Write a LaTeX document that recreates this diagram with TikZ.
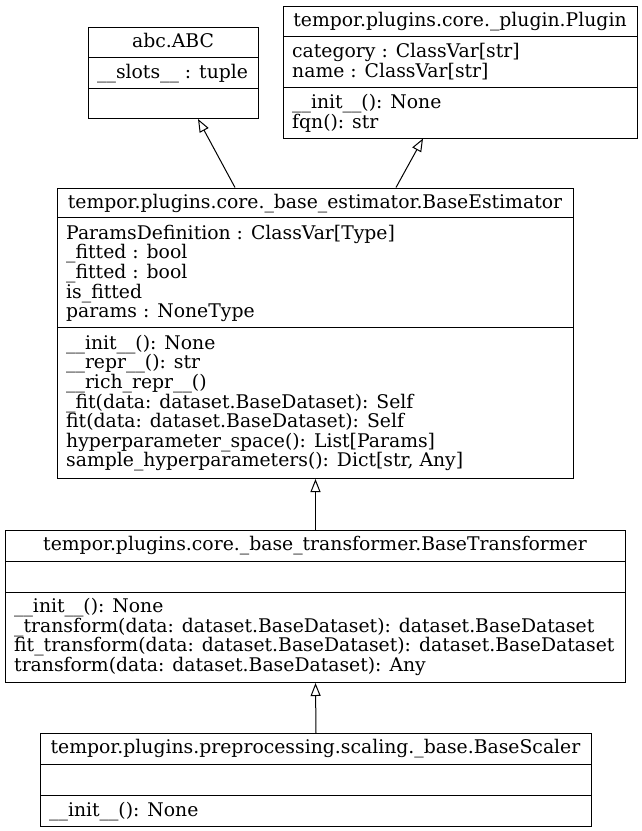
\documentclass[tikz,border=0pt]{standalone}
\usepackage{fontspec}
\setmainfont{DejaVu Serif}
\usetikzlibrary{arrows.meta}
\begin{document}
\begin{tikzpicture}[x=1pt,y=-1pt,
  box/.style={draw, line width=1pt, inner sep=0pt, anchor=north west},
  sepline/.style={line width=1pt},
  lbl/.style={inner sep=0pt, font=\fontsize{18.8}{19.6}\selectfont},
  ttl/.style={lbl, anchor=base},
  ln/.style={lbl, anchor=base west},
  inh/.style={-{Triangle[open,length=13pt,width=10pt]}, line width=1pt}]
\useasboundingbox (0,0) rectangle (642,831);
% abc.ABC
\node[box, minimum width=170pt, minimum height=91pt] (abc) at (88,27) {};
\draw[sepline] (88,57) -- (258,57);
\draw[sepline] (88,88) -- (258,88);
\node[ttl] (abcT) at (173,47.5) {abc.ABC};
\node[ln] (abcA1) at (97,78) {\_\_slots\_\_ : tuple};
% Plugin
\node[box, minimum width=354pt, minimum height=132pt] (plg) at (283,5.5) {};
\draw[sepline] (283,36) -- (637,36);
\draw[sepline] (283,87) -- (637,87);
\node[ttl] (plgT) at (460,26) {tempor.plugins.core.\_plugin.Plugin};
\node[ln] (plgA1) at (292,57.5) {category : ClassVar[str]};
\node[ln] (plgA2) at (292,77.1) {name : ClassVar[str]};
\node[ln] (plgM1) at (292,108.5) {\_\_init\_\_(): None};
\node[ln] (plgM2) at (292,128.1) {fqn(): str};
% BaseEstimator
\node[box, minimum width=516pt, minimum height=290.5pt] (est) at (57,187.5) {};
\draw[sepline] (57,217.5) -- (573,217.5);
\draw[sepline] (57,327.5) -- (573,327.5);
\node[ttl] (estT) at (315,208) {tempor.plugins.core.\_base\_estimator.BaseEstimator};
\node[ln] (estA1) at (66,239.2) {ParamsDefinition : ClassVar[Type]};
\node[ln] (estA2) at (66,258.8) {\_fitted : bool};
\node[ln] (estA3) at (66,278.4) {\_fitted : bool};
\node[ln] (estA4) at (66,298.0) {is\_fitted};
\node[ln] (estA5) at (66,317.6) {params : NoneType};
\node[ln] (estM1) at (66,349.3) {\_\_init\_\_(): None};
\node[ln] (estM2) at (66,368.9) {\_\_repr\_\_(): str};
\node[ln] (estM3) at (66,388.5) {\_\_rich\_repr\_\_()};
\node[ln] (estM4) at (66,408.1) {\_fit(data: dataset.BaseDataset): Self};
\node[ln] (estM5) at (66,427.7) {fit(data: dataset.BaseDataset): Self};
\node[ln] (estM6) at (66,447.3) {hyperparameter\_space(): List[Params]};
\node[ln] (estM7) at (66,466.9) {sample\_hyperparameters(): Dict[str, Any]};
% BaseTransformer
\node[box, minimum width=620pt, minimum height=152pt] (trn) at (5,530) {};
\draw[sepline] (5,561) -- (625,561);
\draw[sepline] (5,592) -- (625,592);
\node[ttl] (trnT) at (315,550.5) {tempor.plugins.core.\_base\_transformer.BaseTransformer};
\node[ln] (trnM1) at (14,612.7) {\_\_init\_\_(): None};
\node[ln] (trnM2) at (14,632.3) {\_transform(data: dataset.BaseDataset): dataset.BaseDataset};
\node[ln] (trnM3) at (14,651.9) {fit\_transform(data: dataset.BaseDataset): dataset.BaseDataset};
\node[ln] (trnM4) at (14,671.5) {transform(data: dataset.BaseDataset): Any};
% BaseScaler
\node[box, minimum width=551pt, minimum height=93pt] (scl) at (40,733) {};
\draw[sepline] (40,764) -- (591,764);
\draw[sepline] (40,795) -- (591,795);
\node[ttl] (sclT) at (315.5,753.5) {tempor.plugins.preprocessing.scaling.\_base.BaseScaler};
\node[ln] (sclM1) at (49,816.3) {\_\_init\_\_(): None};
% inheritance
\draw[inh] ([xshift=178pt]est.north west) -- ([xshift=110pt]abc.south west);
\draw[inh] ([xshift=339pt]est.north west) -- ([xshift=140pt]plg.south west);
\draw[inh] (trn.north) -- (est.south);
\draw[inh] (scl.north) -- (trn.south);
\end{tikzpicture}
\end{document}
